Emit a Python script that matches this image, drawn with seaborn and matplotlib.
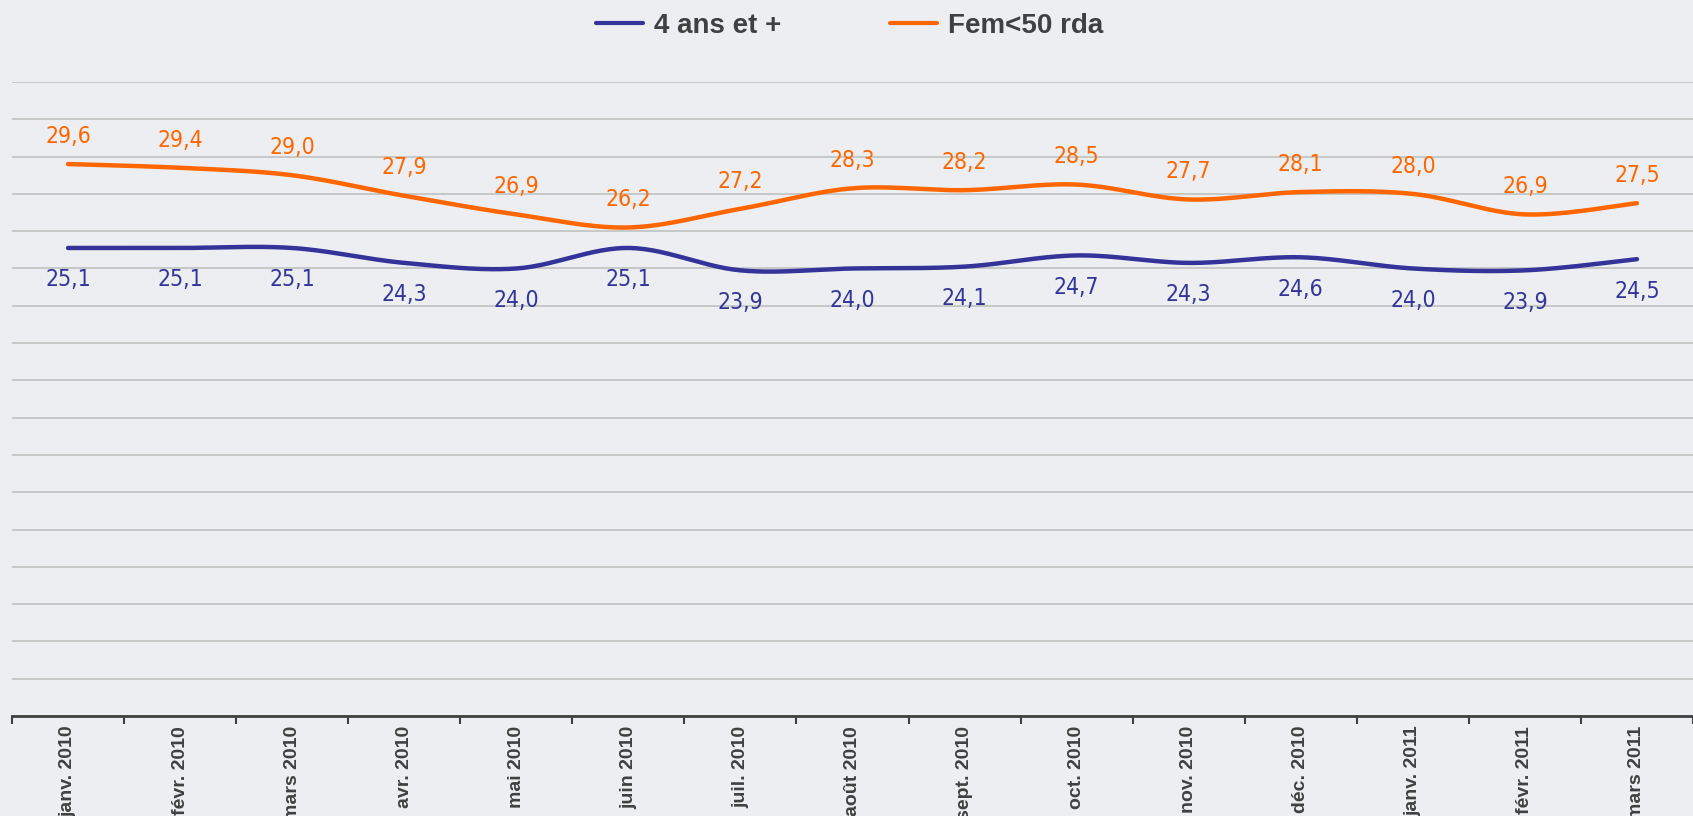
import numpy as np
import pandas as pd
import matplotlib.pyplot as plt
import seaborn as sns
from matplotlib import font_manager

months = ["janv. 2010", "févr. 2010", "mars 2010", "avr. 2010", "mai 2010",
          "juin 2010", "juil. 2010", "août 2010", "sept. 2010", "oct. 2010",
          "nov. 2010", "déc. 2010", "janv. 2011", "févr. 2011", "mars 2011"]
all_4plus = [25.1, 25.1, 25.1, 24.3, 24.0, 25.1, 23.9, 24.0, 24.1, 24.7,
             24.3, 24.6, 24.0, 23.9, 24.5]
fem_50 = [29.6, 29.4, 29.0, 27.9, 26.9, 26.2, 27.2, 28.3, 28.2, 28.5,
          27.7, 28.1, 28.0, 26.9, 27.5]
series_names = ["4 ans et +", "Fem<50 rda"]
colors = {"4 ans et +": "#333399", "Fem<50 rda": "#ff6600"}

BG = "#eceef1"
TXT = "#404040"

# condensed face for the data labels, if one is around
fonts = font_manager.fontManager.ttflist
if any(f.name == "Liberation Sans Narrow" for f in fonts):
    label_font = dict(family="Liberation Sans Narrow")
elif any(f.name == "DejaVu Sans" and f.stretch == "condensed" for f in fonts):
    label_font = dict(family="DejaVu Sans", fontstretch="condensed")
else:
    label_font = dict(family="DejaVu Sans")


def smooth(x, y, n=30):
    """Office-style smoothed line (Catmull-Rom bezier) through the points."""
    pts = np.column_stack([x, y])
    p = np.vstack([pts[0], pts, pts[-1]])
    out = []
    t = np.linspace(0, 1, n)[:, None]
    for i in range(1, len(p) - 2):
        p0, p1, p2, p3 = p[i - 1], p[i], p[i + 1], p[i + 2]
        c1 = p1 + (p2 - p0) / 6
        c2 = p2 - (p3 - p1) / 6
        seg = ((1 - t) ** 3) * p1 + 3 * ((1 - t) ** 2) * t * c1 \
            + 3 * (1 - t) * t ** 2 * c2 + t ** 3 * p2
        out.append(seg if i == 1 else seg[1:])
    return np.vstack(out)


sns.set_theme(style="white")
plt.rcParams["font.family"] = ["Liberation Sans", "DejaVu Sans"]

fig = plt.figure(figsize=(16.93, 8.16), dpi=100, facecolor=BG)
ax = fig.add_axes([0.0071, 0.1225, 0.9929, 0.777])
ax.set_facecolor(BG)

xpos = np.arange(len(months)) + 0.5
frames = []
for name, vals in zip(series_names, [all_4plus, fem_50]):
    curve = smooth(xpos, np.array(vals))
    frames.append(pd.DataFrame({"x": curve[:, 0], "y": curve[:, 1], "serie": name}))
df = pd.concat(frames, ignore_index=True)

sns.lineplot(data=df, x="x", y="y", hue="serie", palette=colors, sort=False,
             estimator=None, linewidth=3.2, ax=ax, legend=True)

# data labels
for x, v in zip(xpos, fem_50):
    ax.annotate(f"{v:.1f}".replace(".", ","), (x, v), xytext=(0, 20),
                textcoords="offset points", ha="center", va="center",
                fontsize=16.5, color=colors["Fem<50 rda"], **label_font)
for x, v in zip(xpos, all_4plus):
    ax.annotate(f"{v:.1f}".replace(".", ","), (x, v), xytext=(0, -23),
                textcoords="offset points", ha="center", va="center",
                fontsize=16.5, color=colors["4 ans et +"], **label_font)

ax.set_xlim(0, len(months))
ax.set_ylim(0, 34)
ax.set_yticks(np.arange(0, 35, 2))
ax.set_yticklabels([])
ax.tick_params(axis="y", length=0)
ax.yaxis.grid(True, color="#c4c4c4", linewidth=1.3)
ax.xaxis.grid(False)
ax.set_axisbelow(True)

ax.set_xticks(xpos)
ax.set_xticklabels(months, rotation=90, fontsize=14, fontweight="bold",
                   color=TXT, va="top")
ax.set_xticks(np.arange(len(months) + 1), minor=True)
ax.tick_params(axis="x", which="major", length=0, pad=7)
ax.tick_params(axis="x", which="minor", length=6, width=1.5, color=TXT,
               direction="out", bottom=True)
ax.set_xlabel("")
ax.set_ylabel("")

for s in ["left", "right", "top"]:
    ax.spines[s].set_visible(False)
ax.spines["bottom"].set_color(TXT)
ax.spines["bottom"].set_linewidth(2)

handles, labels = ax.get_legend_handles_labels()
ax.get_legend().remove()
leg = fig.legend(handles, labels, loc="center", bbox_to_anchor=(0.502, 0.968),
                 ncol=2, frameon=False, fontsize=20, handlelength=1.7,
                 handletextpad=0.4, columnspacing=3.9)
for t in leg.get_texts():
    t.set_fontweight("bold")
    t.set_color(TXT)
for h in leg.get_lines():
    h.set_linewidth(3)

fig.savefig("out.png", dpi=100, facecolor=BG)
